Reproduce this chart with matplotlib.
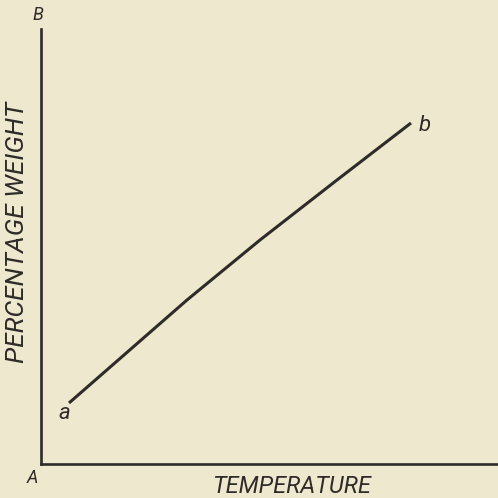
import matplotlib
matplotlib.use("Agg")
from matplotlib import pyplot as plt

# curve a -> b (arbitrary units, origin at A)
temperature = [28, 146, 219, 296, 370]
weight = [61, 164, 224, 284, 341]

x_label = "TEMPERATURE"
y_label = "PERCENTAGE WEIGHT"

paper = "#eee8cf"
ink = "#2e2b28"

fig = plt.figure(figsize=(4.98, 4.98), dpi=100, facecolor=paper)
W = H = 498.0
ax = fig.add_axes([41 / W, (H - 464) / H, (W - 41) / W, (464 - 29) / H])
ax.set_facecolor(paper)

ax.plot(temperature, weight, color=ink, lw=2.2, solid_capstyle="butt")

ax.set_xlim(0, W - 41)
ax.set_ylim(0, 464 - 29)
for side in ("top", "right"):
    ax.spines[side].set_visible(False)
for side in ("left", "bottom"):
    ax.spines[side].set_color(ink)
    ax.spines[side].set_linewidth(1.9)
ax.set_xticks([])
ax.set_yticks([])

# thin italic lettering like the hand-drawn original
txt = dict(color=ink, fontstyle="italic", fontweight="normal",
           family=["Roboto", "DejaVu Sans"], ha="center", va="center")
ax.text(-3, 449, "B", fontsize=13, **txt)
ax.text(-9, -14, "A", fontsize=13, **txt)
ax.text(23, 51, "a", fontsize=16, **txt)
ax.text(384, 339, "b", fontsize=16, **txt)

# axis titles
ax.text(250, -22, x_label, fontsize=17, **txt)
ax.text(-24, 232, y_label, fontsize=19, rotation=90, **txt)

fig.savefig("out.png", dpi=100, facecolor=paper)
